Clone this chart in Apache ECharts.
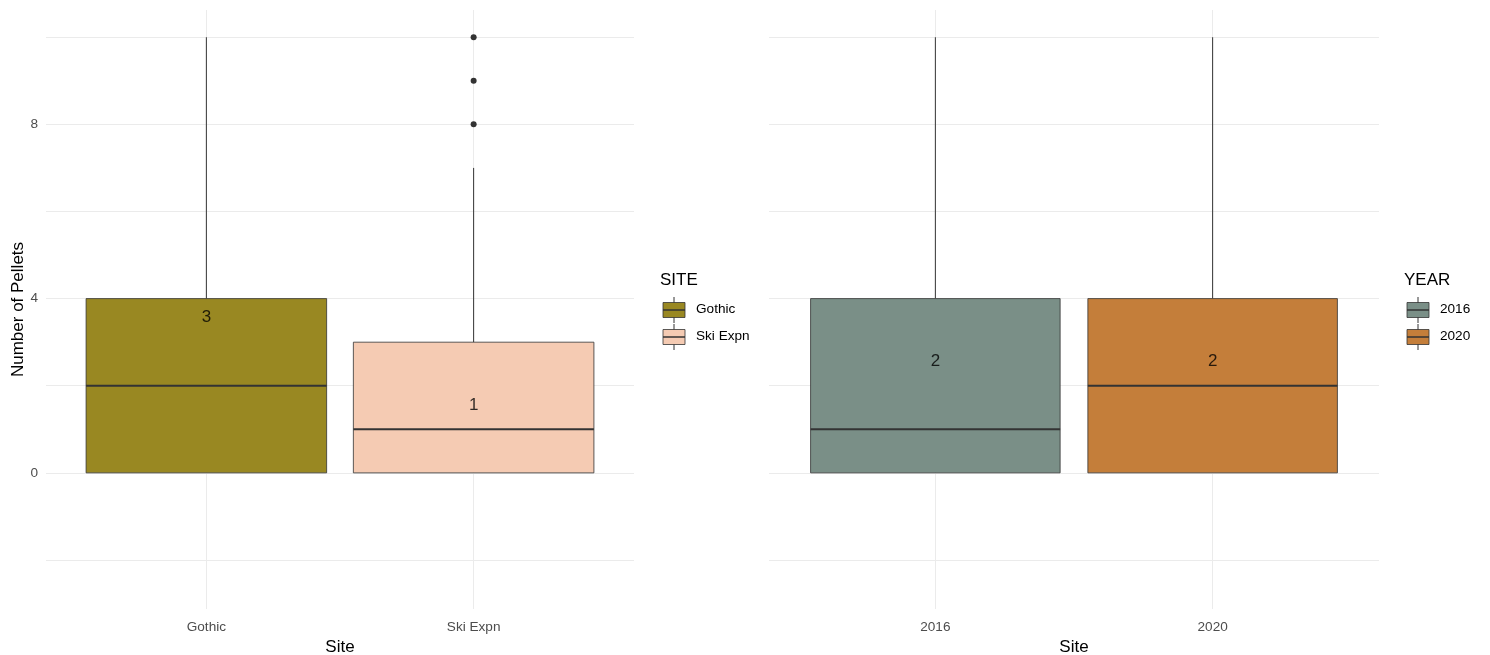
<!DOCTYPE html>
<html><head><meta charset="utf-8">
<script src="https://cdn.jsdelivr.net/npm/echarts@6/dist/echarts.min.js"></script>
<style>html,body{margin:0;padding:0;background:#fff}#c{width:1490px;height:655px}</style>
</head><body><div id="c"></div>
<script>
// ---- data ----
const siteCats = ['Gothic', 'Ski Expn'];
// [lowerWhisker, q1, median, q3, upperWhisker]
const siteBox = [[0, 0, 2, 4, 10], [0, 0, 1, 3, 7]];
const siteOutliers = [[], [8, 9, 10]];
const siteMeanText = ['3', '1'];
const siteMeanY = [3.57, 1.55];
const siteColors = ['#998822', '#f5cbb3'];

const yearCats = ['2016', '2020'];
const yearBox = [[0, 0, 1, 4, 10], [0, 0, 2, 4, 10]];
const yearOutliers = [[], []];
const yearMeanText = ['2', '2'];
const yearMeanY = [2.55, 2.55];
const yearColors = ['#7a8f87', '#c47e3a'];

const yTickLabels = [0, 4, 8];
const yGridValues = [-2, 0, 2, 4, 6, 8, 10];

// ---- chart ----
const FONT = '"Liberation Sans", Arial, sans-serif';
const chart = echarts.init(document.getElementById('c'));

function xAxisFor(gi, cats) {
  return {
    type: 'value', gridIndex: gi, min: 0.4, max: 2.6,
    axisLine: {show: false},
    axisTick: {show: false, customValues: [1, 2]},
    axisLabel: {customValues: [1, 2], formatter: v => cats[Math.round(v) - 1],
      color: '#4d4d4d', fontSize: 13.6, fontFamily: FONT, margin: 11},
    splitLine: {show: true, lineStyle: {color: '#ebebeb', width: 1}},
    name: 'Site', nameLocation: 'middle', nameGap: 28,
    nameTextStyle: {color: '#000', fontSize: 17, fontFamily: FONT}
  };
}
function yAxisFor(gi, showLabels) {
  return {
    type: 'value', gridIndex: gi, min: -3.125, max: 10.625,
    axisLine: {show: false},
    axisTick: {show: false, customValues: yGridValues},
    axisLabel: {show: showLabels, customValues: yTickLabels, color: '#4d4d4d', fontSize: 13.6, fontFamily: FONT, margin: 8},
    splitLine: {show: true, lineStyle: {color: '#ebebeb', width: 1}},
    name: showLabels ? 'Number of Pellets' : '', nameLocation: 'middle', nameGap: 19,
    nameTextStyle: {color: '#000', fontSize: 17, fontFamily: FONT}
  };
}

function boxSeries(gi, boxes, colors) {
  const data = boxes.map((b, i) => [i + 1].concat(b));
  return {
    type: 'custom', xAxisIndex: gi, yAxisIndex: gi, data: data,
    encode: {x: 0, y: [1, 2, 3, 4, 5]},
    renderItem: function (params, api) {
      const x = api.value(0);
      const lo = api.value(1), q1 = api.value(2), med = api.value(3), q3 = api.value(4), hi = api.value(5);
      const left = api.coord([x - 0.45, q1]);
      const right = api.coord([x + 0.45, q3]);
      const pLo = api.coord([x, lo]), pQ1 = api.coord([x, q1]), pQ3 = api.coord([x, q3]), pHi = api.coord([x, hi]);
      const mL = api.coord([x - 0.45, med]), mR = api.coord([x + 0.45, med]);
      const stroke = {stroke: '#333333', lineWidth: 1};
      return {
        type: 'group', children: [
          {type: 'line', shape: {x1: pQ3[0], y1: pQ3[1], x2: pHi[0], y2: pHi[1]}, style: stroke},
          {type: 'line', shape: {x1: pLo[0], y1: pLo[1], x2: pQ1[0], y2: pQ1[1]}, style: stroke},
          {type: 'rect', shape: {x: left[0], y: right[1], width: right[0] - left[0], height: left[1] - right[1]},
            style: {fill: colors[params.dataIndex], stroke: '#333333', lineWidth: 0.8}},
          {type: 'line', shape: {x1: mL[0], y1: mL[1], x2: mR[0], y2: mR[1]}, style: {stroke: '#333333', lineWidth: 2}}
        ]
      };
    }
  };
}
function outlierSeries(gi, outs) {
  const pts = [];
  outs.forEach((arr, i) => arr.forEach(v => pts.push([i + 1, v])));
  return {type: 'scatter', xAxisIndex: gi, yAxisIndex: gi, data: pts, symbolSize: 6,
    itemStyle: {color: '#333333', opacity: 1}, silent: true};
}
function meanSeries(gi, texts, ys) {
  return {type: 'scatter', xAxisIndex: gi, yAxisIndex: gi, symbolSize: 0,
    data: texts.map((t, i) => ({value: [i + 1, ys[i]], name: t})),
    label: {show: true, position: 'inside', formatter: p => p.name, color: '#000', fontSize: 17, fontFamily: FONT},
    silent: true};
}

function legendGraphic(x, yTitle, title, labels, colors) {
  const els = [{type: 'text', left: x - 3, top: yTitle, style: {text: title, fontSize: 17, fontFamily: FONT, fill: '#000'}}];
  labels.forEach((lab, i) => {
    const cy = yTitle + 38 + i * 27;
    els.push({type: 'line', shape: {x1: x + 11, y1: cy - 13, x2: x + 11, y2: cy + 13}, style: {stroke: '#333', lineWidth: 1}});
    els.push({type: 'rect', shape: {x: x, y: cy - 7.5, width: 22, height: 15}, style: {fill: colors[i], stroke: '#333', lineWidth: 0.8}});
    els.push({type: 'line', shape: {x1: x, y1: cy, x2: x + 22, y2: cy}, style: {stroke: '#333', lineWidth: 1.5}});
    els.push({type: 'text', left: x + 33, top: cy - 8, style: {text: lab, fontSize: 13.6, fontFamily: FONT, fill: '#000'}});
  });
  return els;
}

chart.setOption({
  animation: false,
  backgroundColor: '#ffffff',
  grid: [
    {left: 46, top: 10, width: 588, height: 599, outerBoundsMode: 'none', containLabel: false},
    {left: 769, top: 10, width: 610, height: 599, outerBoundsMode: 'none', containLabel: false}
  ],
  xAxis: [xAxisFor(0, siteCats), xAxisFor(1, yearCats)],
  yAxis: [yAxisFor(0, true), yAxisFor(1, false)],
  series: [
    boxSeries(0, siteBox, siteColors), outlierSeries(0, siteOutliers), meanSeries(0, siteMeanText, siteMeanY),
    boxSeries(1, yearBox, yearColors), outlierSeries(1, yearOutliers), meanSeries(1, yearMeanText, yearMeanY)
  ],
  graphic: legendGraphic(663, 272, 'SITE', siteCats, siteColors)
    .concat(legendGraphic(1407, 272, 'YEAR', yearCats, yearColors))
});
</script></body></html>
